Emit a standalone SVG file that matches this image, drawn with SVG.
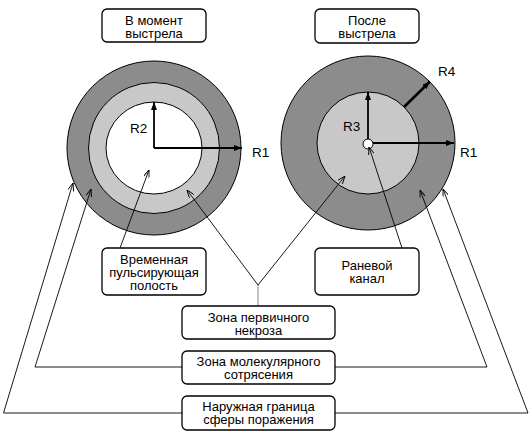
<svg xmlns="http://www.w3.org/2000/svg" width="530" height="442" viewBox="0 0 530 442">
<defs>
<style>
.box{fill:#fff;stroke:#000;stroke-width:1.3}
.t{font-family:"Liberation Sans",Arial,sans-serif;font-size:13px;fill:#000;text-anchor:middle}
.lbl{font-family:"Liberation Sans",Arial,sans-serif;font-size:13.5px;fill:#000}
.c{fill:none;stroke:#000;stroke-width:0.9}
.rad{fill:none;stroke:#000;stroke-width:1.8}
.ring{stroke:#000;stroke-width:1}
</style>
<marker id="open" viewBox="0 0 8 6" refX="8" refY="3" markerWidth="8" markerHeight="6" markerUnits="userSpaceOnUse" orient="auto">
<path d="M0,0 L8,3 L0,6" fill="none" stroke="#000" stroke-width="0.9"/>
</marker>
<marker id="fill" viewBox="0 0 8 6" refX="8" refY="3" markerWidth="8" markerHeight="6" markerUnits="userSpaceOnUse" orient="auto">
<path d="M0,0 L8,3 L0,6 Z" fill="#000"/>
</marker>
</defs>
<rect width="530" height="442" fill="#fff"/>

<g id="circle-left">
<circle class="ring" cx="154" cy="148" r="87" fill="#8c8c8c"/>
<circle class="ring" cx="154" cy="148" r="65.5" fill="#c8c8c8"/>
<ellipse class="ring" cx="154" cy="148" rx="48" ry="46" fill="#fff"/>
<line class="rad" x1="154" y1="148" x2="154" y2="102" marker-end="url(#fill)"/>
<line class="rad" x1="154" y1="148" x2="242" y2="148" marker-end="url(#fill)"/>
<text class="lbl" x="130" y="133">R2</text>
<text class="lbl" x="252" y="157">R1</text>
</g>

<g id="circle-right">
<circle class="ring" cx="368" cy="143" r="87" fill="#8c8c8c"/>
<circle class="ring" cx="368" cy="143" r="51" fill="#c8c8c8"/>
<line class="rad" x1="368" y1="143" x2="368" y2="92" marker-end="url(#fill)"/>
<line class="rad" x1="368" y1="143" x2="454" y2="143" marker-end="url(#fill)"/>
<line x1="404" y1="107" x2="430" y2="81.5" stroke="#000" stroke-width="2.6" marker-end="url(#fill)"/>
<circle cx="368" cy="144" r="5" fill="#fff" stroke="#000" stroke-width="1"/>
<text class="lbl" x="343" y="131">R3</text>
<text class="lbl" x="460" y="157">R1</text>
<text class="lbl" x="438" y="76">R4</text>
</g>

<g id="connectors">
<line class="c" x1="120" y1="248" x2="149" y2="170" marker-end="url(#open)"/>
<line class="c" x1="402" y1="248" x2="369" y2="147" marker-end="url(#open)"/>
<line x1="258" y1="306" x2="258" y2="285" stroke="#999" stroke-width="1.2"/>
<line class="c" x1="258" y1="285" x2="187" y2="190" marker-end="url(#open)"/>
<line class="c" x1="258" y1="285" x2="345" y2="176" marker-end="url(#open)"/>
<polyline class="c" points="182,367 35,367 91,189" marker-end="url(#open)"/>
<polyline class="c" points="335,367 487,367 420,190" marker-end="url(#open)"/>
<polyline class="c" points="182,413 3.5,413 73,183" marker-end="url(#open)"/>
<polyline class="c" points="335,413 528,413 443,189" marker-end="url(#open)"/>
</g>

<g id="box-moment">
<rect class="box" x="102" y="9" width="104" height="33" rx="5"/>
<text class="t" x="154" y="24.5">В момент</text>
<text class="t" x="154" y="37.5">выстрела</text>
</g>
<g id="box-after">
<rect class="box" x="315" y="9" width="104" height="34" rx="5"/>
<text class="t" x="367" y="24.5">После</text>
<text class="t" x="367" y="37.5">выстрела</text>
</g>
<g id="box-cavity">
<rect class="box" x="102" y="248" width="104" height="47" rx="5"/>
<text class="t" x="154" y="264">Временная</text>
<text class="t" x="154" y="277">пульсирующая</text>
<text class="t" x="154" y="290">полость</text>
</g>
<g id="box-channel">
<rect class="box" x="315" y="248" width="104" height="47" rx="5"/>
<text class="t" x="367" y="269.5">Раневой</text>
<text class="t" x="367" y="282.5">канал</text>
</g>
<g id="box-necrosis">
<rect class="box" x="182" y="306" width="153" height="33" rx="5"/>
<text class="t" x="258.5" y="321.5">Зона первичного</text>
<text class="t" x="258.5" y="334.5">некроза</text>
</g>
<g id="box-concussion">
<rect class="box" x="182" y="351" width="153" height="33" rx="5"/>
<text class="t" x="258.5" y="366">Зона молекулярного</text>
<text class="t" x="258.5" y="379">сотрясения</text>
</g>
<g id="box-outer">
<rect class="box" x="182" y="396" width="153" height="34" rx="5"/>
<text class="t" x="258.5" y="411">Наружная граница</text>
<text class="t" x="258.5" y="424">сферы поражения</text>
</g>
</svg>
